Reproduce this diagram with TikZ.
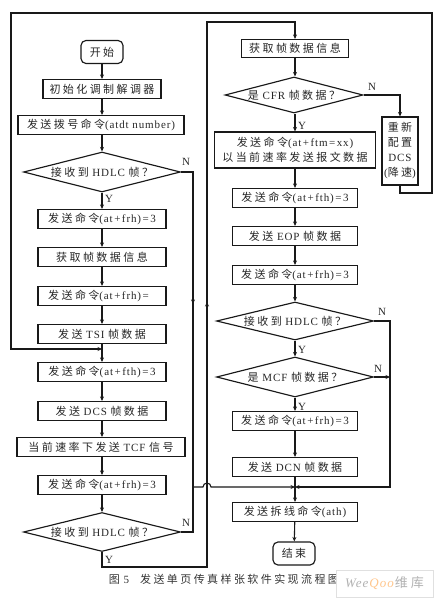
\documentclass[tikz,border=0pt]{standalone}
\usepackage{fontspec}
\setmainfont{Liberation Serif}[LetterSpace=8]
\newfontfamily\cjk{Noto Sans CJK SC}[LetterSpace=22]
\usetikzlibrary{shapes.geometric,arrows.meta,decorations.markings}
\newcommand\zh[1]{{\cjk #1}}
\newcommand\pl{\kern1.5pt+\kern1.5pt}
\newcommand\eqs{\kern1.5pt=\kern1.5pt}
\newcommand\fsz{\fontsize{11}{14}\selectfont}
\begin{document}
\begin{tikzpicture}[x=1pt,y=-1pt,
  base/.style={draw=black!90, line width=1.15pt, inner sep=0pt, font=\fsz, align=center, text=black!85},
  pbox/.style={base, minimum height=19pt},
  term/.style={base, rounded corners=5pt, minimum width=42pt, minimum height=23pt},
  dec/.style={base, diamond, aspect=4},
  flow/.style={line width=1.1pt, draw=black!90, -{Stealth[length=4.5pt,width=4pt]}},
  conn/.style={line width=1.1pt, draw=black!90},
  midarrow/.style={postaction={decorate}, decoration={markings, mark=at position #1 with {\arrow{Stealth[length=4.5pt,width=4pt]}}}},
  yn/.style={font=\fsz, inner sep=1pt, text=black!85},
]
\useasboundingbox (0,0) rectangle (440,605);

% left column
\node[term] (start) at (102,52) {\zh{开始}};
\node[pbox, minimum width=118pt] (init) at (102,89) {\zh{初始化调制解调器}};
\node[pbox, minimum width=166pt] (dial) at (101,125) {\zh{发送拨号命令}(atdt number)};
\node[dec, minimum width=157pt, minimum height=40pt] (d1) at (102,172) {\zh{接收到} HDLC \zh{帧？}};
\node[pbox, minimum width=128pt] (frh1) at (102,219) {\zh{发送命令}(at\pl frh)\eqs 3};
\node[pbox, minimum width=128pt] (get1) at (102,257) {\zh{获取帧数据信息}};
\node[pbox, minimum width=128pt] (frh2) at (102,296) {\zh{发送命令}(at\pl frh)\eqs\phantom{3}};
\node[pbox, minimum width=128pt] (tsi) at (102,334) {\zh{发送} TSI \zh{帧数据}};
\node[pbox, minimum width=128pt] (fth1) at (102,372) {\zh{发送命令}(at\pl fth)\eqs 3};
\node[pbox, minimum width=128pt] (dcs) at (102,411) {\zh{发送} DCS \zh{帧数据}};
\node[pbox, minimum width=168pt] (tcf) at (101,447) {\zh{当前速率下发送} TCF \zh{信号}};
\node[pbox, minimum width=128pt] (frh3) at (102,485) {\zh{发送命令}(at\pl frh)\eqs 3};
\node[dec, minimum width=157pt, minimum height=39pt] (d2) at (102,532) {\zh{接收到} HDLC \zh{帧？}};

% right column
\node[pbox, minimum width=107pt, minimum height=18pt] (get2) at (295,48.5) {\zh{获取帧数据信息}};
\node[dec, minimum width=138pt, minimum height=36pt] (cfr) at (294,95) {\zh{是} CFR \zh{帧数据？}};
\node[pbox, minimum width=161pt, minimum height=36pt, font=\fontsize{11}{15}\selectfont] (ftm) at (295,150) {\zh{发送命令}(at\pl ftm\eqs xx)\\ \zh{以当前速率发送报文数据}};
\node[pbox, minimum width=36pt, minimum height=68pt, font=\fontsize{11}{15}\selectfont] (dcsr) at (400,151) {\zh{重新}\\ \zh{配置}\\ DCS\\ (\zh{降速})};
\node[pbox, minimum width=125pt] (fth2) at (295,198) {\zh{发送命令}(at\pl fth)\eqs 3};
\node[pbox, minimum width=125pt] (eop) at (295,236) {\zh{发送} EOP \zh{帧数据}};
\node[pbox, minimum width=125pt] (frh4) at (295,275) {\zh{发送命令}(at\pl frh)\eqs 3};
\node[dec, minimum width=157pt, minimum height=38pt] (hd3) at (295,321) {\zh{接收到} HDLC \zh{帧？}};
\node[dec, minimum width=157pt, minimum height=40pt] (mcf) at (295,377) {\zh{是} MCF \zh{帧数据？}};
\node[pbox, minimum width=125pt] (frh5) at (295,421) {\zh{发送命令}(at\pl frh)\eqs 3};
\node[pbox, minimum width=125pt] (dcn) at (295,467) {\zh{发送} DCN \zh{帧数据}};
\node[pbox, minimum width=125pt] (ath) at (295,512) {\zh{发送拆线命令}(ath)};
\node[term] (end) at (294,553.5) {\zh{结束}};

\coordinate (jl) at (193,487);
\coordinate (jr) at (295,487);

% left flows
\draw[flow] (start) -- (init);
\draw[flow] (init) -- (init.south |- dial.north);
\draw[flow] (init.south |- dial.south) -- (d1);
\draw[flow] (d1) -- (frh1);
\draw[flow] (frh1) -- (get1);
\draw[flow] (get1) -- (frh2);
\draw[flow] (frh2) -- (tsi);
\draw[flow] (tsi) -- (fth1);
\draw[flow] (fth1) -- (dcs);
\draw[flow] (dcs) -- (dcs.south |- tcf.north);
\draw[flow] (dcs.south |- tcf.south) -- (frh3);
\draw[flow] (frh3) -- (d2);
\node[yn, anchor=west] (y1) at (104,199) {Y};
\node[yn, anchor=west] (y2) at (104,560) {Y};
\node[yn] (n1) at (186,162) {N};
\node[yn] (n2) at (186,523) {N};

\draw[conn, midarrow=0.44] (d1.east) -| (jl);
\draw[conn] (d2.east) -| (jl);
\draw[flow] (jl) -- (203,487) arc[start angle=180, end angle=0, radius=4pt] -- (jr);
\draw[flow, midarrow=0.5] (d2.south) -- (102,567) -- (207,567) -- (207,22) -- (295,22) -- (get2.north);

% right flows
\draw[flow] (get2) -- (get2.south |- cfr.north);
\draw[flow] (get2.south |- cfr.south) -- (ftm);
\draw[flow] (ftm) -- (fth2);
\draw[flow] (fth2) -- (eop);
\draw[flow] (eop) -- (frh4);
\draw[flow] (frh4) -- (hd3);
\draw[flow] (hd3) -- (mcf);
\draw[flow] (mcf) -- (frh5);
\draw[flow] (frh5) -- (dcn);
\draw[conn] (dcn) -- (jr);
\draw[flow] (jr) -- (ath);
\draw[flow] (ath) -- (end);
\node[yn, anchor=west] (y3) at (297,126) {Y};
\node[yn, anchor=west] (y4) at (297,350) {Y};
\node[yn, anchor=west] (y5) at (297,407) {Y};
\node[yn] (n3) at (372,87) {N};
\node[yn] (n4) at (382,312) {N};
\node[yn] (n5) at (378,369) {N};

\draw[flow] (cfr.east) -| (dcsr.north);
\draw[flow] (dcsr.south) -- (400,193) -- (432,193) -- (432,13) -- (11,13) -- (11,349) -- (102,349);
\draw[flow] (hd3.east) -- (390,321) -- (390,487) -- (jr);
\draw[flow] (mcf.east) -- (390,377);

% caption
\node[font=\fontsize{11}{12}\selectfont, text=black!80, inner sep=0pt] (cap) at (224,579) {\zh{图} 5\quad\zh{发送单页传真样张软件实现流程图}};
\node[draw=black!12, fill=white, inner sep=2pt, minimum width=97pt, minimum height=27pt, font=\fontsize{13}{14}\selectfont] (wm) at (384.5,583.5) {\textcolor{black!30}{\textit{Wee}}\textcolor{orange!45}{\textit{Qoo}}\zh{\textcolor{black!30}{维库}}};
\end{tikzpicture}
\end{document}
